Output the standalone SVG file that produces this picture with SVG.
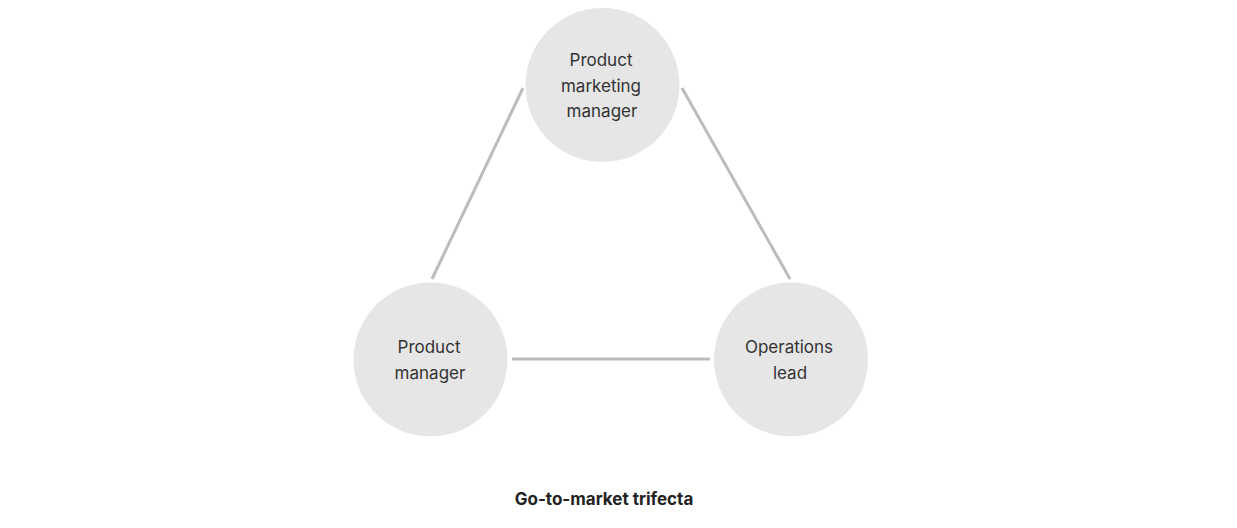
<svg xmlns="http://www.w3.org/2000/svg" width="1237" height="528" viewBox="0 0 1237 528">
<style>
.node{fill:#e6e6e6}
.lbl{font-family:Inter,"Liberation Sans",sans-serif;font-size:17px;fill:#333;text-anchor:middle}
.edge{stroke:#bcbcbc;stroke-width:3;fill:none}
.title{font-family:Inter,"Liberation Sans",sans-serif;font-size:17px;font-weight:700;fill:#222;text-anchor:middle}
</style>
<rect width="1237" height="528" fill="#fff"/>
<g id="connectors">
<line class="edge" x1="523" y1="88" x2="432" y2="279"/>
<line class="edge" x1="682" y1="88" x2="790" y2="279"/>
<line class="edge" x1="512" y1="359" x2="710" y2="359"/>
</g>
<g id="pmm">
<circle class="node" cx="602.5" cy="85" r="77"/>
<text class="lbl" x="601" y="66">Product</text>
<text class="lbl" x="601" y="91.5">marketing</text>
<text class="lbl" x="602" y="117">manager</text>
</g>
<g id="pm">
<circle class="node" cx="430.5" cy="359.5" r="77"/>
<text class="lbl" x="429" y="353">Product</text>
<text class="lbl" x="430" y="378.5">manager</text>
</g>
<g id="ops">
<circle class="node" cx="791" cy="359.5" r="77"/>
<text class="lbl" x="789" y="353">Operations</text>
<text class="lbl" x="790" y="378.5">lead</text>
</g>
<g id="title">
<text class="title" x="604" y="505">Go-to-market trifecta</text>
</g>
</svg>
